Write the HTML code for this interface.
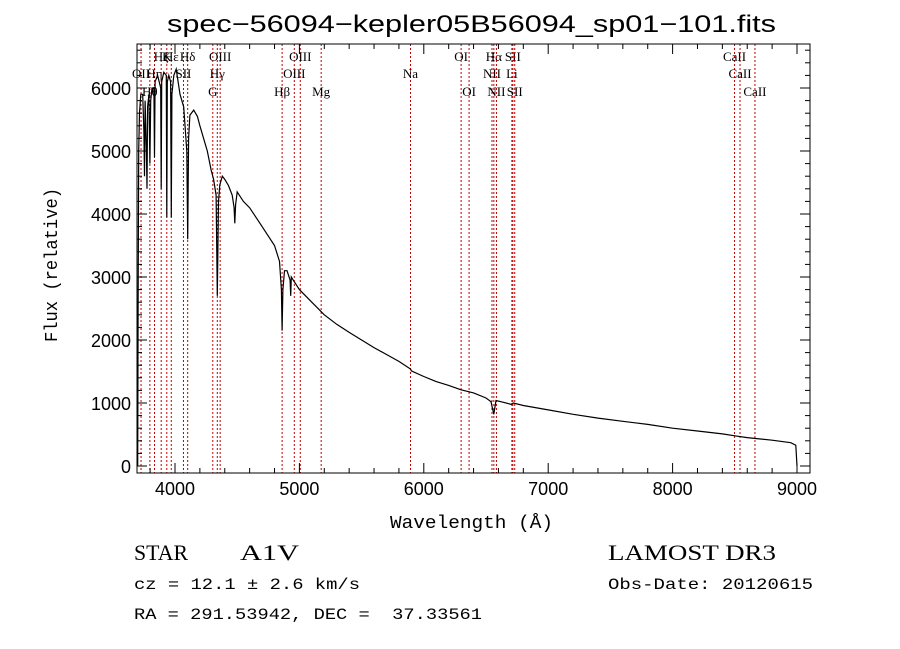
<!DOCTYPE html>
<html><head><meta charset="utf-8"><style>
body{margin:0;background:#fff;}
svg{display:block;}
</style></head><body>
<svg id="chart" width="900" height="649" xmlns="http://www.w3.org/2000/svg">
<rect width="900" height="649" fill="#fff"/>
<text x="167" y="32" textLength="609" lengthAdjust="spacingAndGlyphs" font-family="Liberation Sans, sans-serif" font-size="24">spec−56094−kepler05B56094_sp01−101.fits</text>
<g id="lines"></g>
<g id="axes"></g>
<path id="spec" fill="none" stroke="#000" stroke-width="1.2"/>
<text x="390" y="528" textLength="163" lengthAdjust="spacingAndGlyphs" font-family="Liberation Mono, monospace" font-size="18">Wavelength (Å)</text>
<text transform="translate(57,342) rotate(-90)" textLength="154" lengthAdjust="spacingAndGlyphs" font-family="Liberation Mono, monospace" font-size="18">Flux (relative)</text>
<text x="134" y="560" textLength="54" lengthAdjust="spacingAndGlyphs" font-family="Liberation Serif, serif" font-size="22">STAR</text>
<text x="240" y="560" textLength="59" lengthAdjust="spacingAndGlyphs" font-family="Liberation Serif, serif" font-size="22">A1V</text>
<text x="608" y="560" textLength="168" lengthAdjust="spacingAndGlyphs" font-family="Liberation Serif, serif" font-size="22">LAMOST DR3</text>
<text x="134" y="589" textLength="226" lengthAdjust="spacingAndGlyphs" font-family="Liberation Mono, monospace" font-size="16">cz = 12.1 ± 2.6 km/s</text>
<text x="608" y="589" textLength="205" lengthAdjust="spacingAndGlyphs" font-family="Liberation Mono, monospace" font-size="16">Obs-Date: 20120615</text>
<text x="134" y="619" textLength="348" lengthAdjust="spacingAndGlyphs" font-family="Liberation Mono, monospace" font-size="16" xml:space="preserve">RA = 291.53942, DEC =  37.33561</text>
</svg>
<script>
const waves=[3700,3703,3708,3715,3725,3740,3750,3755,3760,3770,3775,3780,3790,3798,3805,3815,3830,3835,3840,3860,3885,3889,3893,3910,3930,3934,3938,3950,3965,3970,3975,3990,4010,4040,4070,4095,4102,4109,4120,4150,4180,4200,4230,4260,4290,4310,4330,4340,4350,4360,4380,4400,4430,4460,4475,4481,4487,4500,4550,4600,4650,4700,4750,4800,4840,4855,4861,4867,4880,4900,4925,4930,4935,4950,5000,5100,5200,5300,5400,5500,5600,5700,5800,5893,5900,6000,6100,6200,6300,6400,6500,6540,6563,6580,6620,6700,6720,6800,7000,7200,7400,7600,7800,8000,8200,8400,8500,8600,8800,8950,8990,9000];
const fluxes=[0,2500,5000,5600,5900,5900,5300,4600,5800,5000,4400,5700,5900,4800,5800,6000,6000,4900,6100,6200,6000,4400,6100,6250,6200,3950,6100,6200,6100,3950,5900,6200,6300,5900,5700,5000,3600,5200,5570,5650,5550,5400,5200,5000,4700,4550,4300,2700,4200,4460,4600,4550,4450,4300,4100,3850,4150,4350,4200,4100,3950,3800,3650,3500,3250,2800,2150,2800,3100,3100,2950,2700,3000,2950,2800,2600,2400,2250,2120,2000,1880,1770,1660,1540,1510,1420,1340,1280,1210,1160,1080,1020,820,1040,1020,980,1000,960,890,820,760,710,660,600,555,510,480,450,410,370,330,0];
const markW=[3727,3798,3835,3889,3934,3970,4068,4102,4304,4340,4363,4861,4959,5007,5175,5893,6300,6364,6548,6563,6584,6708,6716,6731,8498,8542,8662];
const markLabel=["OII","Hθ","Hη","Hζ","K","Hε","SII","Hδ","G","Hγ","OIII","Hβ","OIII","OIII","Mg","Na","OI","OI","NII","Hα","NII","Li","SII","SII","CaII","CaII","CaII"];
const markRow=[2,3,2,1,1,1,2,1,3,2,1,3,2,1,3,2,1,3,2,1,3,2,1,3,1,2,3];
const xTicks=[4000,5000,6000,7000,8000,9000];
const yTicks=[0,1000,2000,3000,4000,5000,6000];
const X0=137,X1=810,Y0=44,Y1=473;
const xs=w=>175+(w-4000)*0.1244;
const ys=f=>466-f*0.063;
const NS="http://www.w3.org/2000/svg";
function mk(tag,attrs,parent){const e=document.createElementNS(NS,tag);for(const k in attrs)e.setAttribute(k,attrs[k]);parent.appendChild(e);return e;}
const lg=document.getElementById('lines');
const rowY={1:61,2:78,3:96};
markW.forEach((w,i)=>{
 const l=mk('line',{x1:xs(w),x2:xs(w),y1:Y0,y2:Y1,stroke:'#c00000','stroke-width':1,'stroke-dasharray':'2,2'},lg);
 
 
 const t=mk('text',{x:xs(w),y:rowY[markRow[i]],'text-anchor':'middle','font-family':'Liberation Serif, serif','font-size':13},lg);
 t.textContent=markLabel[i];
 
 
});
const ag=document.getElementById('axes');
const fr=mk('rect',{x:X0,y:Y0,width:X1-X0,height:Y1-Y0,fill:'none',stroke:'#000','stroke-width':1},ag);


for(let w=3800;w<=9100;w+=200){const x=xs(w);const maj=w%1000===0;
 mk('line',{x1:x,x2:x,y1:Y1,y2:Y1-(maj?10:5),stroke:'#000'},ag);
 mk('line',{x1:x,x2:x,y1:Y0,y2:Y0+(maj?10:5),stroke:'#000'},ag);}
xTicks.forEach(v=>{const t=mk('text',{x:xs(v),y:Y1+22,'text-anchor':'middle','font-family':'Liberation Sans, sans-serif','font-size':18},ag);t.textContent=v;
 
 });
for(let f=0;f<=6600;f+=200){const y=ys(f);const maj=f%1000===0;
 mk('line',{x1:X0,x2:X0+(maj?10:5),y1:y,y2:y,stroke:'#000'},ag);
 mk('line',{x1:X1,x2:X1-(maj?10:5),y1:y,y2:y,stroke:'#000'},ag);}
yTicks.forEach(v=>{const t=mk('text',{x:X0-6,y:ys(v)+7,'text-anchor':'end','font-family':'Liberation Sans, sans-serif','font-size':18},ag);t.textContent=v;
 
 });
let d='';waves.forEach((w,i)=>{d+=(i?'L':'M')+xs(w).toFixed(1)+','+ys(fluxes[i]).toFixed(1);});
document.getElementById('spec').setAttribute('d',d);
</script>
</body></html>
